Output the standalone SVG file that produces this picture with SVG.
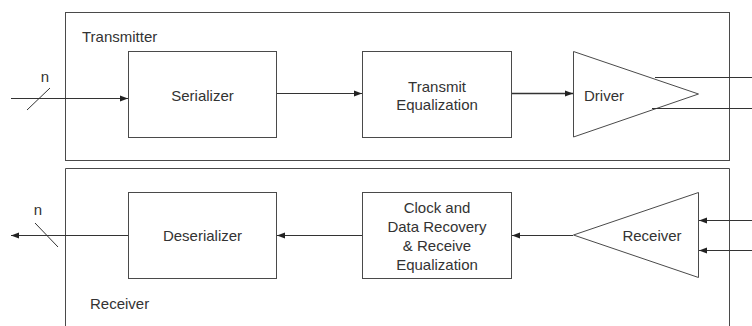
<svg xmlns="http://www.w3.org/2000/svg" width="752" height="326" viewBox="0 0 752 326">
<defs>
<style>
.box{fill:#fff;stroke:#4a4a4a;stroke-width:1}
.frame{fill:none;stroke:#4a4a4a;stroke-width:1}
.ln{fill:none;stroke:#333;stroke-width:1}
.t{font-family:"Liberation Sans",Arial,sans-serif;font-size:15px;fill:#333;text-anchor:middle;dominant-baseline:central}
.tl{font-family:"Liberation Sans",Arial,sans-serif;font-size:15px;fill:#333;dominant-baseline:central}
</style>
<marker id="ah" viewBox="0 0 8 8" refX="8" refY="4" markerWidth="8" markerHeight="8" markerUnits="userSpaceOnUse" orient="auto">
<path d="M0,1 L8,4 L0,7 Z" fill="#222"/>
</marker>
</defs>
<rect width="752" height="326" fill="#fff"/>
<g id="transmitter">
<rect class="frame" x="65.5" y="12.5" width="664" height="148"/>
<text class="tl" x="82" y="36">Transmitter</text>
</g>
<g id="receiver">
<path class="frame" d="M65.5,330 V168.5 H729.5 V330"/>
<text class="tl" x="90" y="303">Receiver</text>
</g>
<g id="serializer">
<rect class="box" x="128.5" y="51.5" width="148" height="86"/>
<text class="t" x="202.5" y="95">Serializer</text>
</g>
<g id="transmit-eq">
<rect class="box" x="362.5" y="51.5" width="149" height="86"/>
<text class="t" x="437" y="86">Transmit</text>
<text class="t" x="437" y="104">Equalization</text>
</g>
<g id="driver">
<path class="box" d="M573.5,51.5 L698.5,94 L573.5,137 Z"/>
<text class="t" x="604" y="95">Driver</text>
</g>
<g id="deserializer">
<rect class="box" x="128.5" y="192.5" width="148" height="86"/>
<text class="t" x="202.5" y="235">Deserializer</text>
</g>
<g id="cdr">
<rect class="box" x="362.5" y="192.5" width="149" height="86"/>
<text class="t" x="437" y="207.5">Clock and</text>
<text class="t" x="437" y="226.5">Data Recovery</text>
<text class="t" x="437" y="245.5">&amp; Receive</text>
<text class="t" x="437" y="264.5">Equalization</text>
</g>
<g id="receiver-amp">
<path class="box" d="M698.5,192.5 L698.5,277.5 L573.5,235 Z"/>
<text class="t" x="652" y="235">Receiver</text>
</g>
<g id="connectors">
<line class="ln" x1="11" y1="98.5" x2="128" y2="98.5" marker-end="url(#ah)"/>
<line class="ln" x1="27" y1="110" x2="50" y2="88"/>
<text class="t" x="45" y="76">n</text>
<line class="ln" x1="277" y1="93.5" x2="362" y2="93.5" marker-end="url(#ah)"/>
<line class="ln" x1="512" y1="93.5" x2="573" y2="93.5" marker-end="url(#ah)" style="stroke-width:1.6"/>
<line class="ln" x1="655" y1="77.5" x2="752" y2="77.5"/>
<line class="ln" x1="652" y1="108.5" x2="752" y2="108.5"/>
<line class="ln" x1="752" y1="220.5" x2="699" y2="220.5" marker-end="url(#ah)"/>
<line class="ln" x1="752" y1="250.5" x2="699" y2="250.5" marker-end="url(#ah)"/>
<line class="ln" x1="573" y1="235.5" x2="512" y2="235.5" marker-end="url(#ah)"/>
<line class="ln" x1="362" y1="235.5" x2="277" y2="235.5" marker-end="url(#ah)"/>
<line class="ln" x1="128" y1="235.5" x2="11" y2="235.5" marker-end="url(#ah)"/>
<line class="ln" x1="35" y1="223" x2="58" y2="247"/>
<text class="t" x="38" y="209">n</text>
</g>
</svg>
